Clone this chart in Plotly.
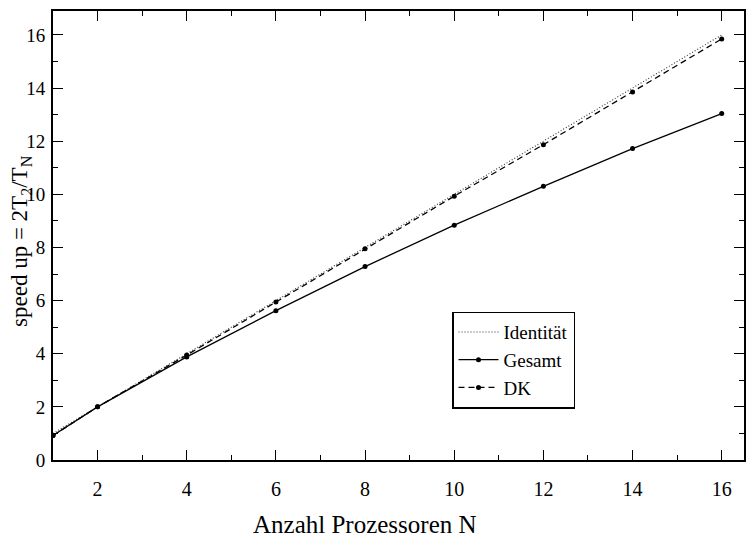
import plotly.graph_objects as go

N = [1, 2, 4, 6, 8, 10, 12, 14, 16]
identitaet = [1, 2, 4, 6, 8, 10, 12, 14, 16]
gesamt = [0.92, 2.0, 3.88, 5.62, 7.28, 8.84, 10.30, 11.72, 13.04]
dk = [0.92, 2.0, 3.95, 5.95, 7.95, 9.93, 11.87, 13.85, 15.85]

x_title = "Anzahl Prozessoren N"
y_title = "speed up = 2T<sub>2</sub>/T<sub>N</sub>"

FONT = "Liberation Serif, Times New Roman, serif"
W, H = 755, 541
L, R, T, B = 45, 19, 1, 89
PW, PH = W - L - R, H - T - B

fig = go.Figure()
fig.add_trace(go.Scatter(x=N, y=identitaet, name="Identität", mode="lines",
                         line=dict(color="#333333", width=1.1, dash="1px,2px")))
fig.add_trace(go.Scatter(x=N, y=gesamt, name="Gesamt", mode="lines+markers",
                         line=dict(color="black", width=1.3),
                         marker=dict(color="black", size=5)))
fig.add_trace(go.Scatter(x=N, y=dk, name="DK", mode="lines+markers",
                         line=dict(color="black", width=1.3, dash="6px,4px"),
                         marker=dict(color="black", size=5)))

axis_common = dict(ticks="inside", ticklen=10, tickwidth=1.3, tickcolor="black",
                   showline=True, linecolor="black", linewidth=2, mirror="ticks",
                   showgrid=False, zeroline=False,
                   minor=dict(ticks="inside", ticklen=5, tickwidth=1.3,
                              tickcolor="black", dtick=1))

fig.update_layout(
    width=W, height=H,
    margin=dict(l=L, r=R, t=T, b=B),
    paper_bgcolor="white", plot_bgcolor="white",
    font=dict(family=FONT, size=20, color="black"),
    showlegend=True,
    legend=dict(x=(444 - L) / PW, y=(H - B - 303) / PH, xanchor="left", yanchor="top",
                bordercolor="black", borderwidth=1.5, bgcolor="white",
                font=dict(size=19), tracegroupgap=0, itemwidth=40),
    xaxis=dict(range=[1, 16.5], tick0=0, dtick=2, ticklabelstandoff=10,
               tickfont=dict(size=20), **axis_common),
    yaxis=dict(range=[0, 16.9], tick0=0, dtick=2, ticklabelstandoff=2,
               tickfont=dict(size=19), **axis_common),
    annotations=[
        dict(text=x_title, xref="paper", yref="paper",
             x=(357 - L) / PW, y=-(517 - (H - B)) / PH,
             xanchor="center", yanchor="middle", showarrow=False,
             font=dict(size=25)),
        dict(text=y_title, xref="paper", yref="paper",
             x=-(L - 13) / PW, y=(H - B - 232) / PH, textangle=-90,
             xanchor="center", yanchor="middle", showarrow=False,
             font=dict(size=23)),
    ],
)

fig.write_html("out.html")
